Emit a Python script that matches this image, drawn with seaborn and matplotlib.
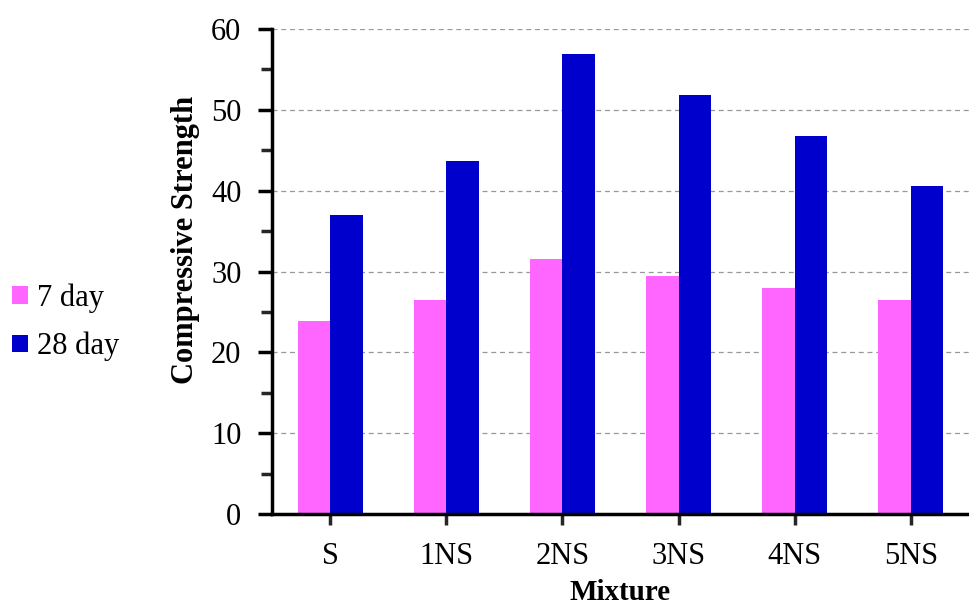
import pandas as pd
import matplotlib.pyplot as plt
import seaborn as sns
from matplotlib.ticker import MultipleLocator

mixtures = ["S", "1NS", "2NS", "3NS", "4NS", "5NS"]
strength_7 = [23.9, 26.5, 31.6, 29.5, 28.0, 26.5]
strength_28 = [37.0, 43.7, 56.9, 51.8, 46.8, 40.6]
ages = ["7 day", "28 day"]
colors = ["#FF66FF", "#0000CC"]

df = pd.DataFrame({
    "Mixture": mixtures * 2,
    "Strength": strength_7 + strength_28,
    "Age": [ages[0]] * len(mixtures) + [ages[1]] * len(mixtures),
})

sns.set_theme(style="white")
plt.rcParams["font.family"] = ["Liberation Serif", "DejaVu Serif"]
plt.rcParams["text.color"] = "black"

fig = plt.figure(figsize=(9.69, 6.06), dpi=100)
ax = fig.add_axes([0.2807, 0.1518, 0.7193, 0.8002])

sns.barplot(data=df, x="Mixture", y="Strength", hue="Age", order=mixtures,
            hue_order=ages, palette=colors, width=0.56, saturation=1,
            edgecolor="none", ax=ax, legend=True)

ax.set_ylim(0, 60)
ax.set_xlim(-0.5, 5.5)
ax.yaxis.set_major_locator(MultipleLocator(10))
ax.yaxis.set_minor_locator(MultipleLocator(5))
ax.grid(axis="y", which="major", linestyle=(0, (4, 3)), color="#999999", linewidth=0.9)
ax.set_axisbelow(True)

for side in ["top", "right"]:
    ax.spines[side].set_visible(False)
for side in ["left", "bottom"]:
    ax.spines[side].set_linewidth(2.5)
    ax.spines[side].set_color("black")

ax.tick_params(axis="y", which="major", direction="out", length=10, width=2.5,
               labelsize=22, left=True, pad=12, colors="black")
ax.tick_params(axis="y", which="minor", direction="out", length=8, width=2.5, left=True)
ax.tick_params(axis="x", direction="out", length=8, width=2.5, bottom=True,
               labelsize=22, pad=12)
for lbl in ax.get_xticklabels() + ax.get_yticklabels():
    lbl.set_color("black")

ax.set_ylabel("Compressive Strength", fontsize=22, fontweight="bold", color="black")
ax.yaxis.set_label_coords(-0.104, 0.565)
ax.set_xlabel("Mixture", fontsize=21, fontweight="bold", labelpad=6, color="black")

handles, labels = ax.get_legend_handles_labels()
ax.get_legend().remove()
leg = fig.legend(handles, labels, loc="center left", bbox_to_anchor=(0.0, 0.468),
                 borderaxespad=0, frameon=False, fontsize=22, handlelength=0.52,
                 handleheight=0.5, handletextpad=0.28, labelspacing=0.62)
for t in leg.get_texts():
    t.set_color("black")

fig.savefig("out.png", dpi=100)
